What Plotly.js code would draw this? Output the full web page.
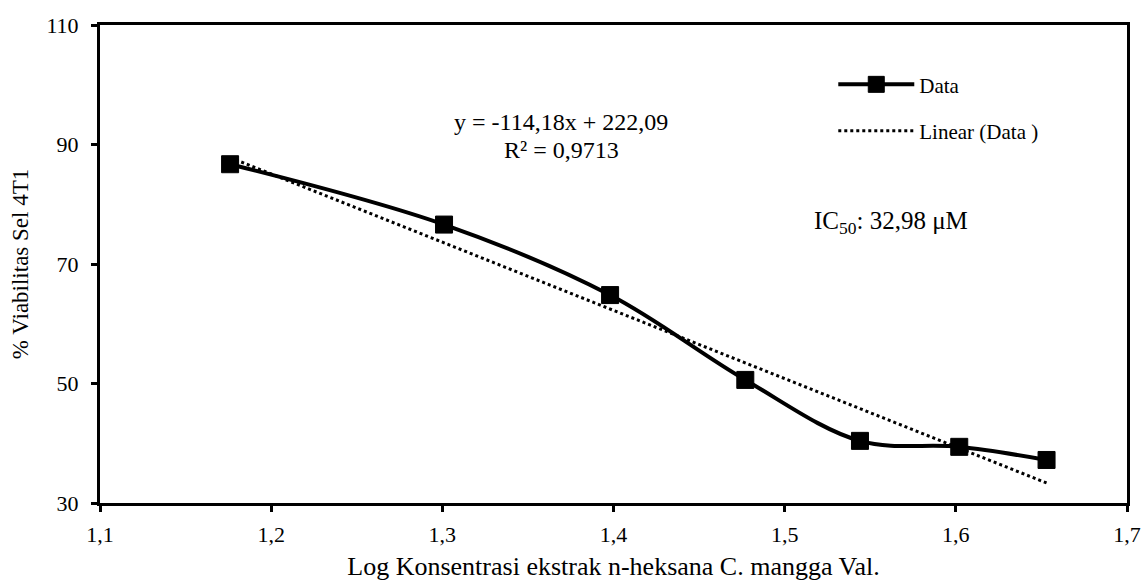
<!DOCTYPE html>
<html>
<head>
<meta charset="utf-8">
<script src="https://cdn.plot.ly/plotly-3.0.1.min.js"></script>
<style>html,body{margin:0;padding:0;background:#fff;}#chart{width:1142px;height:581px;}</style>
</head>
<body>
<div id="chart"></div>
<script>
const logConc = [1.176, 1.301, 1.398, 1.477, 1.544, 1.602, 1.653];
const viability = [86.7, 76.6, 64.8, 50.6, 40.4, 39.4, 37.2];
const slope = -114.18;
const intercept = 222.09;
const trendX = [logConc[0], logConc[logConc.length - 1]];
const trendY = trendX.map(x => slope * x + intercept);
const xTicks = [1.1, 1.2, 1.3, 1.4, 1.5, 1.6, 1.7];
const yTicks = [30, 50, 70, 90, 110];

const FONT = '"Liberation Serif", "Times New Roman", serif';

const traces = [
  {
    x: logConc, y: viability, name: 'Data', type: 'scatter', mode: 'lines+markers',
    line: {color: '#000', width: 4, shape: 'spline', smoothing: 1},
    marker: {symbol: 'square', size: 17, color: '#000', line: {color: '#000', width: 1}},
    legendgroup: 'a'
  },
  {
    x: trendX, y: trendY, name: 'Linear (Data )', type: 'scatter', mode: 'lines',
    line: {color: '#000', width: 3, dash: 'dot'},
    legendgroup: 'b'
  }
];

const axisCommon = {
  showline: true, linecolor: '#000', linewidth: 3, mirror: true,
  ticks: 'outside', ticklen: 6, tickwidth: 3, tickcolor: '#000',
  showgrid: false, zeroline: false,
  tickfont: {family: FONT, size: 22, color: '#000'}
};

const layout = {
  width: 1142, height: 581,
  margin: {l: 100, r: 15, t: 25, b: 78},
  paper_bgcolor: '#fff', plot_bgcolor: '#fff',
  separators: ', ',
  font: {family: FONT, size: 22, color: '#000'},
  showlegend: true,
  legend: {
    x: 0.714, y: 0.918, xanchor: 'left', yanchor: 'top',
    traceorder: 'grouped', tracegroupgap: 16, itemwidth: 76,
    font: {family: FONT, size: 21, color: '#000'},
    bgcolor: 'rgba(0,0,0,0)'
  },
  xaxis: Object.assign({}, axisCommon, {
    range: [1.1, 1.7], tickvals: xTicks, tickformat: '.1f', ticklabelstandoff: 4,
    title: {text: 'Log Konsentrasi ekstrak n-heksana C. mangga Val.', font: {family: FONT, size: 26, color: '#000'}, standoff: 12}
  }),
  yaxis: Object.assign({}, axisCommon, {
    range: [30, 110], tickvals: yTicks, ticklabelstandoff: 8,
    title: {text: '% Viabilitas Sel 4T1', font: {family: FONT, size: 23, color: '#000'}, standoff: 12}
  }),
  annotations: [
    {xref: 'paper', yref: 'paper', x: 0.449, y: 0.797, xanchor: 'center', yanchor: 'middle', showarrow: false,
     text: 'y = -114,18x + 222,09', font: {family: FONT, size: 24, color: '#000'}},
    {xref: 'paper', yref: 'paper', x: 0.449, y: 0.738, xanchor: 'center', yanchor: 'middle', showarrow: false,
     text: 'R² = 0,9713', font: {family: FONT, size: 24, color: '#000'}},
    {xref: 'paper', yref: 'paper', x: 0.693, y: 0.586, xanchor: 'left', yanchor: 'middle', showarrow: false,
     text: 'IC<sub>50</sub>: 32,98 μM', font: {family: FONT, size: 25, color: '#000'}}
  ]
};

Plotly.newPlot('chart', traces, layout, {displayModeBar: false, staticPlot: true});
</script>
</body>
</html>
